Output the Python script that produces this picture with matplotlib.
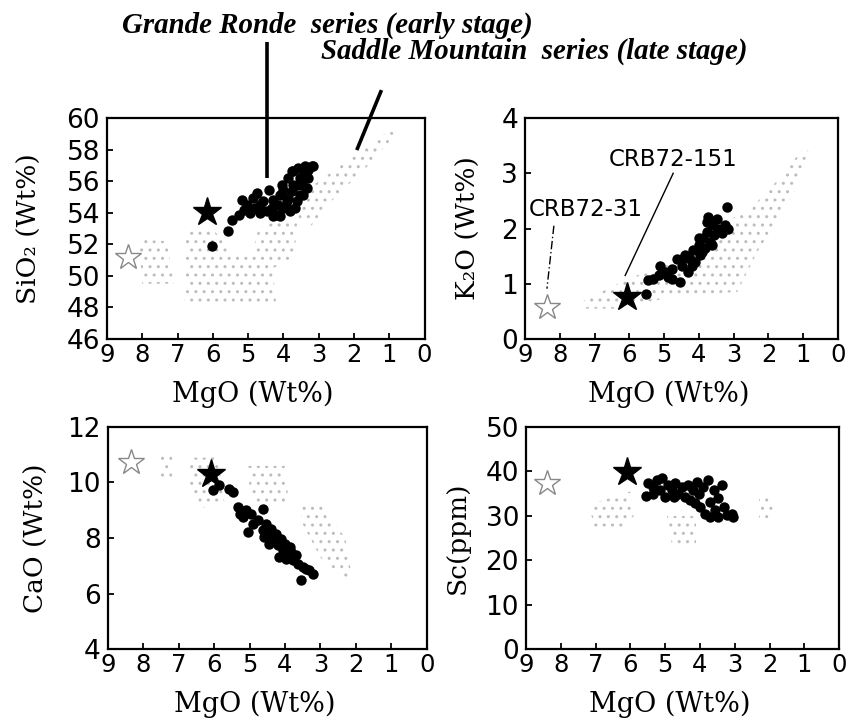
"""MgO variation diagrams for the Columbia River basalts."""

import matplotlib
matplotlib.use("Agg")
import matplotlib.pyplot as plt
from matplotlib.patches import Polygon

###########
# Data    #
###########
# Grande Ronde series (filled dots) -- MgO vs SiO2
gr_sio2_mgo = [6.03, 5.58, 5.46, 5.27, 5.13, 5.18, 5.04, 4.85, 4.80, 4.75, 4.66, 4.57,
               4.42, 4.47, 4.33, 4.28, 4.19, 4.14, 4.09, 4.05, 4.00, 3.91, 3.86, 3.81,
               3.76, 3.72, 3.72, 3.62, 3.58, 3.53, 3.48, 3.43, 3.39, 3.34, 3.29, 3.20,
               3.15, 3.90, 3.67, 3.76, 4.00, 4.94, 4.66, 4.28, 4.09, 3.53, 3.43, 3.62,
               3.86, 3.29]
gr_sio2 = [51.87, 52.82, 53.56, 53.88, 54.19, 54.83, 54.50, 54.93, 54.30, 55.25, 54.50, 54.72,
           55.46, 54.09, 54.30, 54.83, 53.88, 54.50, 55.14, 55.78, 54.30, 54.72, 56.20, 54.09,
           55.35, 55.78, 56.62, 54.72, 56.83, 55.14, 55.78, 56.41, 56.94, 55.57, 56.20, 56.94,
           56.98, 54.30, 54.30, 56.62, 55.46, 53.98, 53.98, 53.77, 53.77, 56.20, 55.14, 55.78,
           54.93, 56.73]

# MgO vs K2O
gr_k2o_mgo = [5.53, 5.45, 5.31, 5.16, 5.12, 4.97, 4.88, 4.78, 4.64, 4.54, 4.49, 4.40,
              4.30, 4.25, 4.16, 4.11, 4.01, 3.97, 3.87, 3.82, 3.77, 3.73, 3.68, 3.63,
              3.58, 3.49, 3.44, 3.34, 3.25, 3.15, 3.20, 3.77, 4.49, 4.21, 3.92, 4.78,
              3.63, 4.01]
gr_k2o = [0.82, 1.06, 1.09, 1.15, 1.33, 1.21, 1.12, 1.27, 1.45, 1.03, 1.33, 1.52,
          1.21, 1.45, 1.61, 1.39, 1.70, 1.52, 1.82, 1.64, 1.94, 2.21, 1.76, 2.06,
          1.88, 2.18, 2.00, 1.91, 2.06, 2.00, 2.39, 2.12, 1.45, 1.33, 1.58, 1.09,
          1.70, 1.82]

# MgO vs CaO
gr_cao_mgo = [6.04, 5.85, 5.57, 5.47, 5.33, 5.28, 5.19, 5.10, 5.05, 4.95, 4.91, 4.77,
              4.63, 4.63, 4.53, 4.48, 4.39, 4.34, 4.25, 4.20, 4.11, 4.06, 4.01, 3.92,
              3.87, 3.78, 3.68, 3.64, 3.54, 3.50, 3.40, 3.31, 3.21, 4.44, 4.58, 4.16,
              3.97, 3.83]
gr_cao = [9.72, 9.90, 9.78, 9.66, 9.12, 8.88, 8.76, 9.00, 8.22, 8.88, 8.52, 8.64,
          9.06, 8.28, 8.52, 8.10, 8.34, 7.92, 8.16, 7.74, 7.98, 7.56, 7.80, 7.38,
          7.68, 7.20, 7.38, 7.08, 6.47, 6.95, 6.90, 6.83, 6.71, 7.80, 8.04, 7.32,
          7.26, 7.50]

# MgO vs Sc
gr_sc_mgo = [5.55, 5.48, 5.34, 5.24, 5.15, 5.10, 5.00, 4.91, 4.81, 4.71, 4.62, 4.52,
             4.43, 4.33, 4.28, 4.19, 4.14, 4.04, 4.00, 3.90, 3.85, 3.76, 3.71, 3.61,
             3.56, 3.47, 3.37, 3.32, 3.23, 3.08, 3.04, 3.47, 4.76, 4.09, 5.34, 3.71]
gr_sc = [34.5, 37.3, 36.5, 38.0, 35.8, 38.4, 34.3, 36.9, 35.8, 37.3, 35.0, 36.5,
         34.3, 36.9, 33.5, 35.8, 32.8, 35.0, 32.0, 36.5, 30.5, 38.0, 33.2, 35.8,
         31.3, 33.9, 36.9, 32.0, 30.2, 30.5, 29.8, 29.8, 34.3, 37.6, 35.0, 29.8]

# Reference samples: CRB72-151 (filled star) and CRB72-31 (open star)
crb151_mgo = [6.17, 6.07, 6.08, 6.10]
crb151_val = [54.04, 0.76, 10.32, 39.9]
crb31_mgo = [8.40, 8.37, 8.34, 8.40]
crb31_val = [51.2, 0.58, 10.74, 37.3]

# Saddle Mountain series fields (stippled)
sm_sio2_fields = [
    [(8.1, 52.3), (7.3, 52.2), (7.1, 49.5), (8.0, 49.5)],
    [(6.75, 53.0), (6.0, 53.0), (5.5, 51.5), (4.9, 51.4), (4.7, 53.0), (4.4, 53.3),
     (3.6, 53.7), (3.7, 51.0), (4.3, 50.5), (4.2, 48.1), (6.8, 48.1)],
    [(3.6, 53.5), (3.3, 55.5), (2.0, 57.6), (1.0, 59.2), (0.8, 59.0), (1.6, 57.0),
     (2.7, 54.6), (3.2, 53.2)],
]
sm_k2o_fields = [
    [(7.4, 0.55), (6.3, 0.55), (4.5, 0.8), (2.9, 0.85), (2.3, 1.6), (1.3, 2.6),
     (0.85, 3.4), (1.0, 3.45), (1.7, 2.9), (2.6, 2.3), (3.4, 2.1), (4.7, 1.4),
     (6.0, 1.1), (7.3, 0.7)],
]
sm_cao_fields = [
    [(7.5, 11.0), (7.2, 11.0), (7.2, 10.2), (7.5, 10.2)],
    [(6.7, 10.9), (5.9, 10.9), (5.7, 9.2), (6.3, 9.1), (6.7, 9.8)],
    [(5.1, 10.6), (4.0, 10.6), (3.9, 9.3), (4.9, 9.2)],
    [(3.6, 9.3), (3.0, 9.2), (2.3, 8.0), (2.1, 6.5), (2.3, 6.5), (3.0, 7.3), (3.5, 8.5)],
]
sm_sc_fields = [
    [(7.2, 32.5), (6.0, 35.5), (5.9, 30.0), (6.3, 26.5), (7.0, 26.5)],
    [(4.95, 30.0), (4.1, 30.0), (4.1, 23.5), (4.8, 23.5)],
    [(2.3, 34.5), (1.9, 34.5), (1.9, 29.5), (2.3, 29.5)],
]

y_labels = ["SiO\u2082 (Wt%)", "K\u2082O (Wt%)", "CaO (Wt%)", "Sc(ppm)"]
y_limits = [(46, 60), (0, 4), (4, 12), (0, 50)]
y_steps = [2, 1, 2, 10]

###########
# Figure  #
###########
plt.rcParams["hatch.linewidth"] = 1.0

fig = plt.figure(figsize=(8.49, 7.22), dpi=100)
rects = [[0.126, 0.5305, 0.374, 0.306],
         [0.6184, 0.5305, 0.3687, 0.306],
         [0.127, 0.1011, 0.3757, 0.3075],
         [0.6196, 0.1011, 0.3687, 0.3075]]
axes = [fig.add_axes(r) for r in rects]

gr_x = [gr_sio2_mgo, gr_k2o_mgo, gr_cao_mgo, gr_sc_mgo]
gr_y = [gr_sio2, gr_k2o, gr_cao, gr_sc]
fields = [sm_sio2_fields, sm_k2o_fields, sm_cao_fields, sm_sc_fields]
ylab_x = [-0.245, -0.18, -0.225, -0.22]

for i, ax in enumerate(axes):
    for verts in fields[i]:
        ax.add_patch(Polygon(verts, closed=True, facecolor="none",
                             edgecolor="#bdbdbd", linewidth=0, hatch=".."))
    ax.plot(gr_x[i], gr_y[i], "o", color="black", ms=7.5, mew=0)
    ax.plot(crb151_mgo[i], crb151_val[i], "*", color="black", ms=21)
    ax.plot(crb31_mgo[i], crb31_val[i], "*", mfc="white", mec="#888888",
            mew=1.0, ms=19)

    lo, hi = y_limits[i]
    ax.set_xlim(9, 0)
    ax.set_ylim(lo, hi)
    ax.set_xticks(range(9, -1, -1))
    ax.set_yticks(range(lo, hi + 1, y_steps[i]))
    ax.tick_params(direction="in", length=4, width=1.3, top=False, right=False)
    ax.tick_params(axis="x", labelsize=17.5, pad=3)
    ax.tick_params(axis="y", labelsize=19, pad=5)
    for s in ax.spines.values():
        s.set_linewidth(1.6)

    ax.set_xlabel("MgO (Wt%)", family=["DejaVu Serif"], fontsize=19.5)
    ax.xaxis.label.set_va("center")
    ax.xaxis.set_label_coords(0.46, -0.25)
    ax.set_ylabel(y_labels[i], family=["DejaVu Serif"], fontsize=19)
    ax.yaxis.label.set_va("center")
    ax.yaxis.set_label_coords(ylab_x[i], 0.5)

# Leader lines to the series titles
ax1, ax2 = axes[0], axes[1]
ax1.plot([4.47, 4.47], [56.2, 64.8], color="black", lw=2.6, clip_on=False,
         solid_capstyle="butt")
ax1.plot([1.22, 1.92], [61.77, 57.97], color="black", lw=2.6, clip_on=False,
         solid_capstyle="butt")

fig.text(122 / 849, 1 - 25 / 722, "Grande Ronde  series (early stage)",
         family="Liberation Serif", weight="bold", style="italic",
         fontsize=20.8, ha="left", va="center")
fig.text(321 / 849, 1 - 51 / 722, "Saddle Mountain  series (late stage)",
         family="Liberation Serif", weight="bold", style="italic",
         fontsize=20.8, ha="left", va="center")

# Sample labels in the K2O panel
ax2.text(4.74, 3.25, "CRB72-151", fontsize=16.5, ha="center", va="center")
ax2.plot([4.74, 6.12], [3.0, 1.15], color="black", lw=1.0)
ax2.text(7.25, 2.35, "CRB72-31", fontsize=16.5, ha="center", va="center")
ax2.plot([8.17, 8.37], [2.05, 0.91], color="black", lw=1.0,
         linestyle=(0, (6, 2, 1, 2)))

fig.savefig("out.png", dpi=100)
